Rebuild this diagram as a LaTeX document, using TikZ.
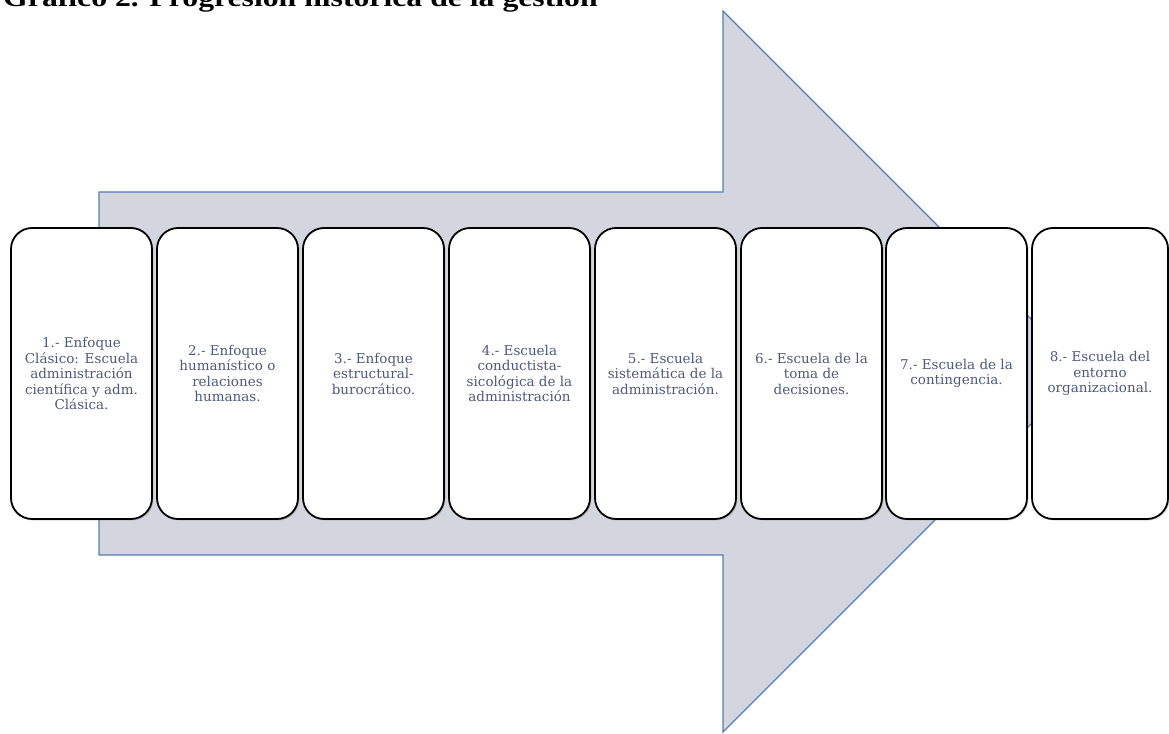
\documentclass[tikz,border=0pt]{standalone}
\usepackage{fontspec}
\setmainfont{Liberation Serif}
\newfontfamily\boxfont{DejaVu Serif}
\usetikzlibrary{shadows}
\definecolor{arrowfill}{RGB}{211,214,223}
\definecolor{arrowline}{RGB}{84,125,182}
\definecolor{boxtext}{RGB}{78,90,122}
\begin{document}
\begin{tikzpicture}[x=1pt,y=-1pt,
  stage/.style={draw=black, line width=1.8pt, fill=white, rounded corners=21pt,
    minimum width=141pt, minimum height=291pt, align=center, inner sep=0pt,
    font=\boxfont\fontsize{13.5}{15.5}\selectfont, text=boxtext,
    drop shadow={shadow xshift=1.5pt, shadow yshift=-1.5pt, opacity=0.3}},
  bigarrow/.style={fill=arrowfill, draw=arrowline, line width=1.2pt, line join=miter}]
\useasboundingbox (0,0) rectangle (1169,733);

% heading, partly above the page edge
\node[anchor=base west, inner sep=0pt, xscale=1.22,
      font=\bfseries\fontsize{26}{30}\selectfont] (title) at (3,7)
  {Gráfico 2. Progresión histórica de la gestión};

% block arrow behind the stages
\draw[bigarrow] (99,192) -- (723,192) -- (723,11) -- (1083.5,371.5)
  -- (723,732) -- (723,555) -- (99,555) -- cycle;

% the eight stages
\node[stage] (s1) at (81.5,373.5) {1.- Enfoque\\Clásico: Escuela\\administración\\científica y adm.\\Clásica.};
\node[stage] (s2) at (227.5,373.5) {2.- Enfoque\\humanístico o\\relaciones\\humanas.};
\node[stage] (s3) at (373.5,373.5) {3.- Enfoque\\estructural-\\burocrático.};
\node[stage] (s4) at (519.5,373.5) {4.- Escuela\\conductista-\\sicológica de la\\administración};
\node[stage] (s5) at (665.5,373.5) {5.- Escuela\\sistemática de la\\administración.};
\node[stage] (s6) at (811.5,373.5) {6.- Escuela de la\\toma de\\decisiones.};
\node[stage] (s7) at (956.5,373.5) {7.- Escuela de la\\contingencia.};
\node[stage, minimum width=136pt] (s8) at (1100,373.5) {8.- Escuela del\\entorno\\organizacional.};
\end{tikzpicture}
\end{document}
